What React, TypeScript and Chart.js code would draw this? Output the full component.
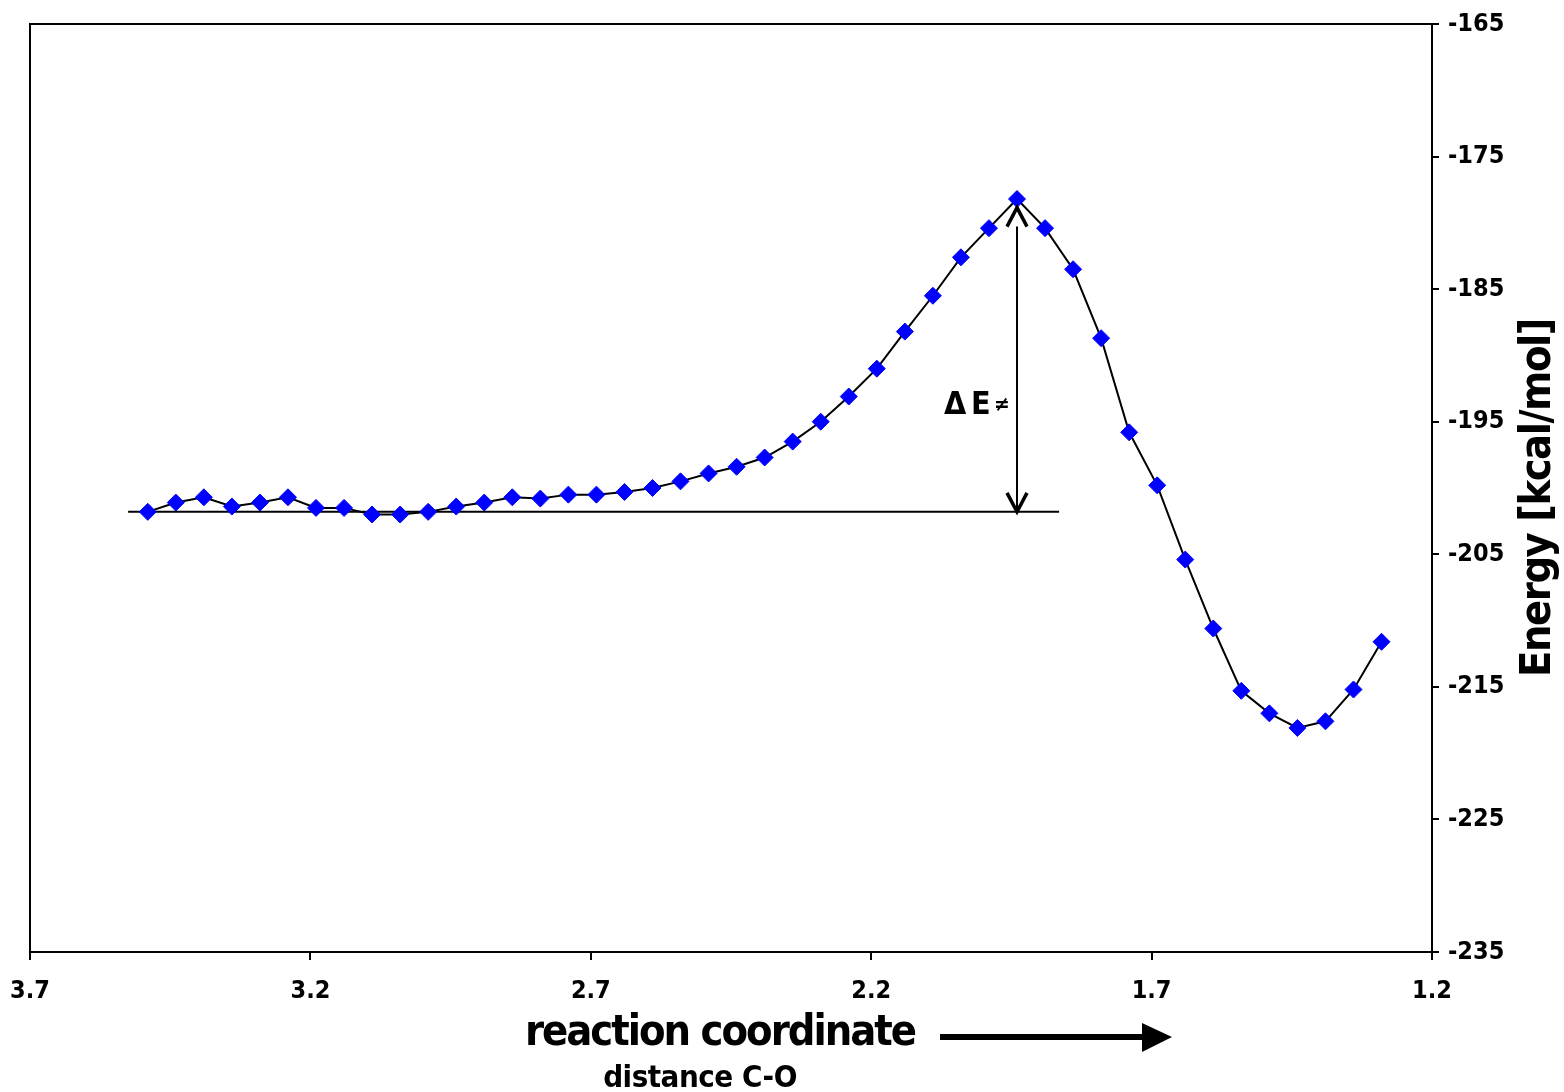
import React, { useEffect, useRef } from 'react';
import { Chart, registerables } from 'chart.js';

Chart.register(...registerables);

// ---- data ----
const distances = [
  3.49, 3.44, 3.39, 3.34, 3.29, 3.24, 3.19, 3.14, 3.09, 3.04,
  2.99, 2.94, 2.89, 2.84, 2.79, 2.74, 2.69, 2.64, 2.59, 2.54,
  2.49, 2.44, 2.39, 2.34, 2.29, 2.24, 2.19, 2.14, 2.09, 2.04,
  1.99, 1.94, 1.89, 1.84, 1.79, 1.74, 1.69, 1.64, 1.59, 1.54,
  1.49, 1.44, 1.39, 1.34, 1.29,
];
const energies = [
  -201.8, -201.1, -200.7, -201.4, -201.1, -200.7, -201.5, -201.5, -202.0, -202.0,
  -201.8, -201.4, -201.1, -200.7, -200.8, -200.5, -200.5, -200.3, -200.0, -199.5,
  -198.9, -198.4, -197.7, -196.5, -195.0, -193.1, -191.0, -188.2, -185.5, -182.6,
  -180.4, -178.2, -180.4, -183.5, -188.7, -195.8, -199.8, -205.4, -210.6, -215.3,
  -217.0, -218.1, -217.6, -215.2, -211.6,
];
const baselineDistances = [3.525, 1.865];
const baselineEnergy = -201.8;
const barrierDistance = 1.94;
const barrierTopEnergy = -178.85;
const barrierBottomEnergy = -201.8;
const xTicks = [3.7, 3.2, 2.7, 2.2, 1.7, 1.2];
const yTicks = [-165, -175, -185, -195, -205, -215, -225, -235];

const xTitle = 'reaction coordinate';
const xSubTitle = 'distance C-O';
const yTitle = 'Energy [kcal/mol]';

const FONT = '"DejaVu Sans Condensed", "DejaVu Sans", sans-serif';

const overlayPlugin = {
  id: 'overlay',
  afterDraw(chart: any) {
    const ctx = chart.ctx as any;
    const { left, top, right, bottom } = chart.chartArea;
    const xs = chart.scales.x;
    const ys = chart.scales.y;
    ctx.save();
    // frame
    ctx.strokeStyle = '#000';
    ctx.lineWidth = 2;
    ctx.strokeRect(left, top, right - left, bottom - top);

    // barrier double arrow
    const ax = xs.getPixelForValue(barrierDistance);
    const aTop = ys.getPixelForValue(barrierTopEnergy);
    const aBot = ys.getPixelForValue(barrierBottomEnergy);
    ctx.lineWidth = 2;
    ctx.beginPath();
    ctx.moveTo(ax, aTop + 19);
    ctx.lineTo(ax, aBot - 2);
    ctx.stroke();
    ctx.lineWidth = 3.5;
    ctx.lineJoin = 'miter';
    ctx.beginPath();
    ctx.moveTo(ax - 10, aTop + 19);
    ctx.lineTo(ax, aTop);
    ctx.lineTo(ax + 10, aTop + 19);
    ctx.stroke();
    ctx.beginPath();
    ctx.moveTo(ax - 10, aBot - 19);
    ctx.lineTo(ax, aBot);
    ctx.lineTo(ax + 10, aBot - 19);
    ctx.stroke();

    // ΔE≠ label
    ctx.fillStyle = '#000';
    ctx.textAlign = 'left';
    ctx.textBaseline = 'alphabetic';
    ctx.font = `bold 32px ${FONT}`;
    ctx.fillText('\u0394', 944, 414);
    ctx.fillText('E', 971, 414);
    ctx.font = `bold 21px ${FONT}`;
    ctx.fillText('\u2260', 994, 411);

    // x title
    ctx.textAlign = 'center';
    ctx.letterSpacing = '-2px';
    ctx.font = `bold 43px ${FONT}`;
    ctx.fillText(xTitle, 720, 1045);
    ctx.letterSpacing = '-0.5px';
    ctx.font = `bold 31px ${FONT}`;
    ctx.fillText(xSubTitle, 700, 1087);

    // x title arrow
    ctx.letterSpacing = '0px';
    ctx.fillRect(940, 1034, 204, 6);
    ctx.beginPath();
    ctx.moveTo(1142, 1023);
    ctx.lineTo(1172, 1037);
    ctx.lineTo(1142, 1052);
    ctx.closePath();
    ctx.fill();

    // y title
    ctx.translate(1539, 498);
    ctx.rotate(-Math.PI / 2);
    ctx.textBaseline = 'middle';
    ctx.letterSpacing = '-1.5px';
    ctx.font = `bold 43px ${FONT}`;
    ctx.fillText(yTitle, 0, 0);
    ctx.letterSpacing = '0px';
    ctx.restore();
  },
};

export default function App() {
  const ref = useRef<HTMLCanvasElement>(null);
  useEffect(() => {
    const chart = new Chart(ref.current!, {
      type: 'scatter',
      data: {
        datasets: [
          {
            label: 'Energy',
            data: distances.map((x, i) => ({ x, y: energies[i] })),
            showLine: true,
            borderColor: '#000',
            borderWidth: 2,
            pointStyle: 'rectRot',
            pointRadius: 8.5,
            pointBackgroundColor: '#0000FF',
            pointBorderColor: '#0000FF',
            pointBorderWidth: 1,
            order: 0,
          },
          {
            label: 'Baseline',
            data: baselineDistances.map((x) => ({ x, y: baselineEnergy })),
            showLine: true,
            borderColor: '#000',
            borderWidth: 2,
            pointRadius: 0,
            order: 1,
          },
        ],
      },
      options: {
        responsive: false,
        animation: false,
        layout: { padding: { left: 30, top: 24, right: 0, bottom: 0 } },
        plugins: { legend: { display: false }, tooltip: { enabled: false } },
        scales: {
          x: {
            type: 'linear',
            reverse: true,
            min: 1.2,
            max: 3.7,
            afterBuildTicks: (s: any) => {
              s.ticks = xTicks.map((v) => ({ value: v }));
            },
            afterFit: (s: any) => {
              s.height = 140;
              s.paddingLeft = 0;
              s.paddingRight = 0;
            },
            grid: {
              display: true,
              drawOnChartArea: false,
              drawTicks: true,
              tickLength: 8,
              color: '#000',
              lineWidth: 2,
            },
            border: { display: true, color: '#000', width: 2 },
            ticks: {
              color: '#000',
              font: { family: FONT, weight: 'bold', size: 25 },
              padding: 16,
              maxRotation: 0,
              autoSkip: false,
              callback: (v: any) => Number(v).toFixed(1),
            },
          },
          y: {
            type: 'linear',
            position: 'right',
            min: -235,
            max: -165,
            afterBuildTicks: (s: any) => {
              s.ticks = yTicks.map((v) => ({ value: v }));
            },
            afterFit: (s: any) => {
              s.width = 132;
              s.paddingTop = 0;
              s.paddingBottom = 0;
            },
            grid: {
              display: true,
              drawOnChartArea: false,
              drawTicks: true,
              tickLength: 7,
              color: '#000',
              lineWidth: 2,
            },
            border: { display: true, color: '#000', width: 2 },
            ticks: {
              color: '#000',
              font: { family: FONT, weight: 'bold', size: 25 },
              padding: 9,
              autoSkip: false,
              callback: (v: any) => String(v),
            },
          },
        },
      },
      plugins: [overlayPlugin],
    });
    return () => chart.destroy();
  }, []);

  return (
    <div style={{ position: 'absolute', left: 0, top: 0, width: 1564, height: 1092, background: '#fff' }}>
      <canvas ref={ref} width={1564} height={1092} style={{ display: 'block', width: 1564, height: 1092 }} />
    </div>
  );
}
